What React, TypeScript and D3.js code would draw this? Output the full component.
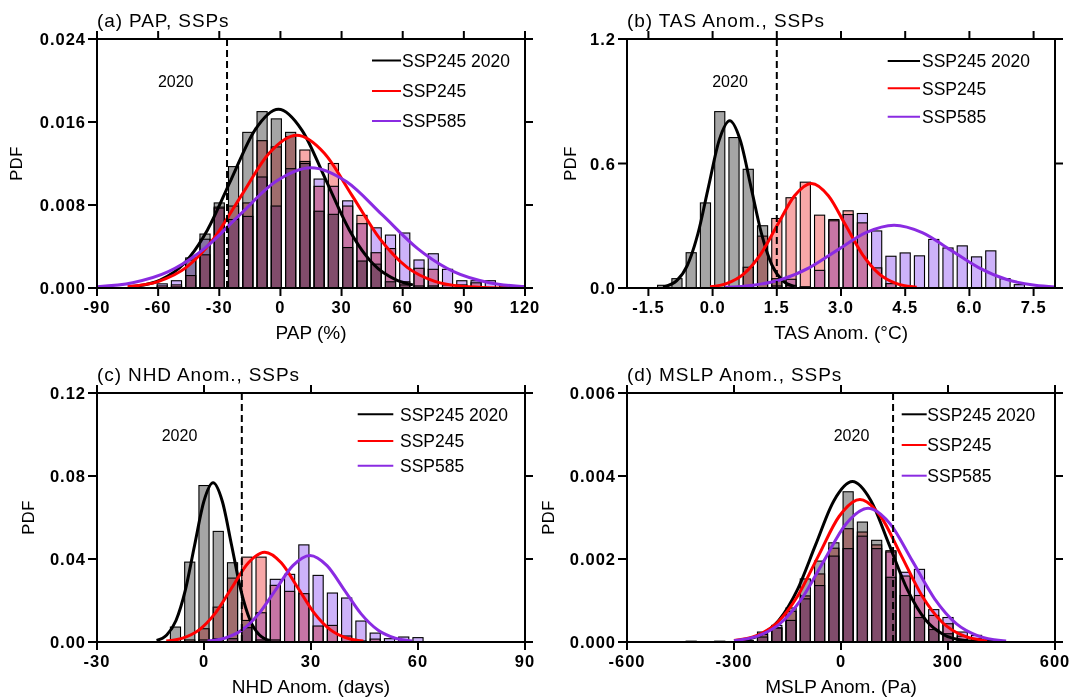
import React from 'react';
import * as d3 from 'd3';

type Pt = [number, number];

// ---------------- Panel (a) PAP ----------------
const binsA = [-58, -51, -44, -37, -30, -23, -16, -9, -2, 5, 12, 19, 26, 33, 40, 47, 54, 61, 68, 75, 82, 89, 96, 103, 110, 117];
const histA2020 = [0, 0.0001, 0.0029, 0.0052, 0.0082, 0.0117, 0.015, 0.017, 0.0163, 0.015, 0.0122, 0.0074, 0.0071, 0.0039, 0.0026, 0.0023, 0.0006, 0.0003, 0.0002, 0.0002, 0, 0, 0, 0, 0, 0];
const histA245 = [0.0002, 0.0003, 0.0012, 0.0032, 0.0078, 0.0079, 0.0082, 0.0142, 0.0136, 0.0146, 0.0133, 0.0098, 0.012, 0.0079, 0.007, 0.0034, 0.0038, 0.0006, 0.0019, 0.0018, 0.0003, 0.0003, 0.0005, 0, 0.0002, 0];
const histA585 = [0.0004, 0.0007, 0.0027, 0.0047, 0.0077, 0.0066, 0.0069, 0.0107, 0.0079, 0.0115, 0.012, 0.0105, 0.0098, 0.0084, 0.0062, 0.0058, 0.0051, 0.0053, 0.0027, 0.0033, 0.0018, 0.0007, 0.0007, 0.0007, 0.0003, 0.0002];
const curveA2020: Pt[] = [[-73, 0.00014], [-70.6, 0.00019], [-59, 0.00076], [-47.4, 0.00233], [-35.8, 0.0056], [-24.2, 0.01045], [-12.6, 0.0152], [-1, 0.01723], [10.6, 0.0152], [22.2, 0.01045], [33.8, 0.0056], [45.4, 0.00233], [57, 0.00076], [65, 0.0003]];
const curveA245: Pt[] = [[-75, 0.000135], [-59.75, 0.000646], [-46.2, 0.00199], [-32.65, 0.00478], [-19.1, 0.00893], [-5.55, 0.01299], [8, 0.01472], [21.55, 0.01299], [35.1, 0.00893], [48.65, 0.00478], [62.2, 0.00199], [75.75, 0.000646], [89.3, 0.000163], [102.85, 0.000032], [117, 0.000005]];
const curveA585: Pt[] = [[-90, 0.000129], [-72.5, 0.000509], [-55, 0.00157], [-37.5, 0.00377], [-20, 0.00704], [-2.5, 0.01024], [15, 0.0116], [32.5, 0.01024], [50, 0.00704], [67.5, 0.00377], [85, 0.00157], [102.5, 0.000509], [120, 0.000129]];
const xTicksA = [-90, -60, -30, 0, 30, 60, 90, 120];
const xTickLabelsA = ['-90', '-60', '-30', '0', '30', '60', '90', '120'];
const yTicksA = [0, 0.008, 0.016, 0.024];
const yTickLabelsA = ['0.000', '0.008', '0.016', '0.024'];

// ---------------- Panel (b) TAS ----------------
const binsB = [-1.167, -0.833, -0.5, -0.167, 0.167, 0.5, 0.833, 1.167, 1.5, 1.833, 2.167, 2.5, 2.833, 3.167, 3.5, 3.833, 4.167, 4.5, 4.833, 5.167, 5.5, 5.833, 6.167, 6.5, 6.833, 7.167];
const histB2020 = [0.013, 0.045, 0.17, 0.41, 0.85, 0.725, 0.572, 0.3, 0.045, 0.013, 0.005, 0, 0, 0, 0, 0, 0, 0, 0, 0, 0, 0, 0, 0, 0, 0];
const histB245 = [0, 0, 0, 0, 0, 0, 0.1, 0.25, 0.335, 0.435, 0.51, 0.351, 0.33, 0.372, 0.314, 0.097, 0.021, 0.003, 0, 0, 0, 0, 0, 0, 0, 0];
const histB585 = [0, 0, 0, 0, 0, 0, 0, 0, 0.01, 0.042, 0.005, 0.085, 0.324, 0.354, 0.359, 0.275, 0.153, 0.169, 0.155, 0.234, 0.193, 0.203, 0.15, 0.179, 0.045, 0.016];
const curveB2020: Pt[] = [[-1.16, 0.0056], [-1.085, 0.009], [-0.8375, 0.0354], [-0.59, 0.1091], [-0.3425, 0.2617], [-0.095, 0.4888], [0.1525, 0.7113], [0.4, 0.806], [0.6475, 0.7113], [0.895, 0.4888], [1.1425, 0.2617], [1.39, 0.1091], [1.6375, 0.0354], [1.885, 0.009], [1.92, 0.0073]];
const curveB245: Pt[] = [[-0.06, 0.0056], [0.335, 0.0221], [0.73, 0.0682], [1.125, 0.1636], [1.52, 0.3057], [1.915, 0.4448], [2.31, 0.504], [2.705, 0.4448], [3.1, 0.3057], [3.495, 0.1636], [3.89, 0.0682], [4.285, 0.0221], [4.68, 0.0056], [4.77, 0.004]];
const curveB585: Pt[] = [[0.289, 0.0034], [0.9475, 0.0133], [1.606, 0.041], [2.2645, 0.0984], [2.923, 0.1838], [3.5815, 0.2674], [4.24, 0.303], [4.8985, 0.2674], [5.557, 0.1838], [6.2155, 0.0984], [6.874, 0.041], [7.5325, 0.0133], [8.0, 0.0052]];
const xTicksB = [-1.5, 0, 1.5, 3, 4.5, 6, 7.5];
const xTickLabelsB = ['-1.5', '0.0', '1.5', '3.0', '4.5', '6.0', '7.5'];
const yTicksB = [0, 0.6, 1.2];
const yTickLabelsB = ['0.0', '0.6', '1.2'];

// ---------------- Panel (c) NHD ----------------
const binsC = [-8, -4, 0, 4, 8, 12, 16, 20, 24, 28, 32, 36, 40, 44, 48, 52, 56, 60];
const histC2020 = [0.0072, 0.0385, 0.0754, 0.0533, 0.0382, 0.0104, 0.001, 0.001, 0, 0, 0, 0, 0, 0, 0, 0, 0, 0];
const histC245 = [0, 0.001, 0.0064, 0.0168, 0.0308, 0.0409, 0.0409, 0.0273, 0.0244, 0.0233, 0.0077, 0.008, 0.0029, 0.0005, 0.0014, 0, 0, 0];
const histC585 = [0, 0, 0.001, 0.0016, 0.0016, 0.0069, 0.0141, 0.0302, 0.0326, 0.0468, 0.0321, 0.0236, 0.0212, 0.0101, 0.0043, 0.0016, 0.0024, 0.0021];
const curveC2020: Pt[] = [[-13.3, 0.00073], [-10.45, 0.00337], [-7.85, 0.01038], [-5.25, 0.0249], [-2.65, 0.04652], [-0.05, 0.06769], [2.55, 0.0767], [5.15, 0.06769], [7.75, 0.04652], [10.35, 0.0249], [12.95, 0.01038], [15.55, 0.00337], [18.5, 0.0007]];
const curveC245: Pt[] = [[-10.58, 0.00048], [-5.975, 0.0019], [-1.37, 0.00586], [3.235, 0.01406], [7.84, 0.02626], [12.445, 0.03821], [17.05, 0.0433], [21.655, 0.03821], [26.26, 0.02626], [30.865, 0.01406], [35.47, 0.00586], [40.075, 0.0019], [44.68, 0.00048]];
const curveC585: Pt[] = [[0.99, 0.00046], [5.775, 0.00183], [10.56, 0.00564], [15.345, 0.01354], [20.13, 0.02529], [24.915, 0.0368], [29.7, 0.0417], [34.485, 0.0368], [39.27, 0.02529], [44.055, 0.01354], [48.84, 0.00564], [53.625, 0.00183], [58.41, 0.00046]];
const xTicksC = [-30, 0, 30, 60, 90];
const xTickLabelsC = ['-30', '0', '30', '60', '90'];
const yTicksC = [0, 0.04, 0.08, 0.12];
const yTickLabelsC = ['0.00', '0.04', '0.08', '0.12'];

// ---------------- Panel (d) MSLP ----------------
const binsD = [-420, -380, -340, -300, -260, -220, -180, -140, -100, -60, -20, 20, 60, 100, 140, 180, 220, 260, 300, 340, 380, 420];
const histD2020 = [0.00002, 0, 0.00002, 0, 0.00003, 0.00024, 0.00034, 0.00082, 0.00152, 0.00195, 0.00239, 0.00362, 0.00289, 0.00245, 0.00156, 0.00112, 0.00059, 0.0003, 0.0002, 0.00006, 0, 0];
const histD245 = [0, 0, 0, 0, 0.00003, 0.00018, 0.00034, 0.00074, 0.00111, 0.00164, 0.00226, 0.00273, 0.00265, 0.00234, 0.0022, 0.00159, 0.00112, 0.00064, 0.00044, 0.00014, 0.00008, 0.00004];
const histD585 = [0, 0, 0, 0, 0, 0.00012, 0.0004, 0.00052, 0.00104, 0.00136, 0.00207, 0.00225, 0.00255, 0.00225, 0.00217, 0.00168, 0.00175, 0.00078, 0.00059, 0.00024, 0.00016, 0.00006];
const curveD2020: Pt[] = [[-300, 0.0000215], [-277, 0.0000429], [-225.5, 0.00017], [-174, 0.000523], [-122.5, 0.001255], [-71, 0.002345], [-19.5, 0.003412], [32, 0.003866], [83.5, 0.003412], [135, 0.002345], [186.5, 0.001255], [238, 0.000523], [289.5, 0.00017], [341, 0.0000429], [392.5, 0.0000085]];
const curveD245: Pt[] = [[-300, 0.0000335], [-237, 0.000151], [-179, 0.000464], [-121, 0.001115], [-63, 0.002082], [-5, 0.00303], [53, 0.003433], [111, 0.00303], [169, 0.002082], [227, 0.001115], [285, 0.000464], [343, 0.000151], [401, 0.0000381], [410, 0.00003]];
const curveD585: Pt[] = [[-300, 0.0000324], [-234, 0.000142], [-172, 0.000436], [-110, 0.001047], [-48, 0.001955], [14, 0.002845], [76, 0.003224], [138, 0.002845], [200, 0.001955], [262, 0.001047], [324, 0.000436], [386, 0.000142], [448, 0.0000358], [463, 0.0000248]];
const xTicksD = [-600, -300, 0, 300, 600];
const xTickLabelsD = ['-600', '-300', '0', '300', '600'];
const yTicksD = [0, 0.002, 0.004, 0.006];
const yTickLabelsD = ['0.000', '0.002', '0.004', '0.006'];

const legendNames = ['SSP245 2020', 'SSP245', 'SSP585'];
const vlines = [-26.2, 1.5, 10.6, 146];

// ---------------- styling ----------------
const PW = 428;
const PH = 249;
const FONT = '"Liberation Sans", Arial, Helvetica, sans-serif';
const LINE_COLORS = ['#000000', '#ff0000', '#8a2be2'];
const FILL_COLORS = ['#a5a5a5', '#f8a8a8', '#cdb2fa'];

interface PanelCfg {
  id: string;
  left: number;
  top: number;
  title: string;
  xTitle: string;
  xDomain: [number, number];
  yDomain: [number, number];
  xTicks: number[];
  xTickLabels: string[];
  yTicks: number[];
  yTickLabels: string[];
  bins: number[];
  binWidth: number;
  hists: number[][];
  curves: Pt[][];
  vline: number;
  pdfX: number;
  label2020: [number, number];
  legend: { x0: number; x1: number; tx: number; rows: number[] };
}

const panels: PanelCfg[] = [
  {
    id: 'a', left: 97, top: 39, title: '(a) PAP, SSPs', xTitle: 'PAP (%)',
    xDomain: [-90, 120], yDomain: [0, 0.024], xTicks: xTicksA, xTickLabels: xTickLabelsA,
    yTicks: yTicksA, yTickLabels: yTickLabelsA, bins: binsA, binWidth: 7,
    hists: [histA2020, histA245, histA585], curves: [curveA2020, curveA245, curveA585],
    vline: vlines[0], pdfX: 16, label2020: [78.7, 47.7],
    legend: { x0: 275, x1: 304, tx: 305, rows: [21.5, 52, 82] },
  },
  {
    id: 'b', left: 627, top: 39, title: '(b) TAS Anom., SSPs', xTitle: 'TAS Anom. (°C)',
    xDomain: [-2, 8], yDomain: [0, 1.2], xTicks: xTicksB, xTickLabels: xTickLabelsB,
    yTicks: yTicksB, yTickLabels: yTickLabelsB, bins: binsB, binWidth: 1 / 3,
    hists: [histB2020, histB245, histB585], curves: [curveB2020, curveB245, curveB585],
    vline: vlines[1], pdfX: 570, label2020: [103, 47.7],
    legend: { x0: 260.7, x1: 293, tx: 295, rows: [22, 49.3, 77.7] },
  },
  {
    id: 'c', left: 97, top: 393, title: '(c) NHD Anom., SSPs', xTitle: 'NHD Anom. (days)',
    xDomain: [-30, 90], yDomain: [0, 0.12], xTicks: xTicksC, xTickLabels: xTickLabelsC,
    yTicks: yTicksC, yTickLabels: yTickLabelsC, bins: binsC, binWidth: 4,
    hists: [histC2020, histC245, histC585], curves: [curveC2020, curveC245, curveC585],
    vline: vlines[2], pdfX: 28, label2020: [82.5, 48],
    legend: { x0: 260.7, x1: 296.3, tx: 303, rows: [21.3, 48, 72.7] },
  },
  {
    id: 'd', left: 627, top: 393, title: '(d) MSLP Anom., SSPs', xTitle: 'MSLP Anom. (Pa)',
    xDomain: [-600, 600], yDomain: [0, 0.006], xTicks: xTicksD, xTickLabels: xTickLabelsD,
    yTicks: yTicksD, yTickLabels: yTickLabelsD, bins: binsD, binWidth: 40,
    hists: [histD2020, histD245, histD585], curves: [curveD2020, curveD245, curveD585],
    vline: vlines[3], pdfX: 548, label2020: [224.5, 48],
    legend: { x0: 274.7, x1: 299.7, tx: 300.3, rows: [21.3, 52, 82.7] },
  },
];

function Panel({ p }: { p: PanelCfg }) {
  const x = d3.scaleLinear().domain(p.xDomain).range([p.left, p.left + PW]);
  const y = d3.scaleLinear().domain(p.yDomain).range([p.top + PH, p.top]);
  const bw = (x(p.xDomain[0] + p.binWidth) - x(p.xDomain[0])) * 0.71;
  const line = d3
    .line<Pt>()
    .x((d) => x(d[0]))
    .y((d) => y(d[1]))
    .curve(d3.curveMonotoneX);
  const clipId = `clip-${p.id}`;
  const bottom = p.top + PH;
  const right = p.left + PW;
  const tickLabelStyle = { fontFamily: FONT, fontSize: 16.5, fontWeight: 700, letterSpacing: 1 } as const;

  return (
    <g>
      <defs>
        <clipPath id={clipId}>
          <rect x={p.left} y={p.top} width={PW} height={PH} />
        </clipPath>
      </defs>
      {/* histograms */}
      {p.hists.map((vals, si) =>
        p.bins.map((c, i) =>
          vals[i] > 0 ? (
            <rect
              key={`${si}-${i}`}
              x={x(c) - bw / 2}
              y={y(vals[i])}
              width={bw}
              height={y(0) - y(vals[i])}
              fill={FILL_COLORS[si]}
              stroke="#000"
              strokeWidth={1.1}
              style={{ mixBlendMode: 'multiply' }}
            />
          ) : null
        )
      )}
      {/* fitted curves */}
      <g clipPath={`url(#${clipId})`}>
        {p.curves.map((pts, si) => (
          <path key={si} d={line(pts) || ''} fill="none" stroke={LINE_COLORS[si]} strokeWidth={3} strokeLinejoin="round" />
        ))}
      </g>
      {/* 2020 dashed line */}
      <line x1={x(p.vline)} x2={x(p.vline)} y1={p.top} y2={bottom} stroke="#000" strokeWidth={2} strokeDasharray="7,4" />
      <text x={p.left + p.label2020[0]} y={p.top + p.label2020[1]} textAnchor="middle" fontFamily={FONT} fontSize={16}>
        2020
      </text>
      {/* legend */}
      {legendNames.map((name, i) => (
        <g key={name}>
          <line
            x1={p.left + p.legend.x0}
            x2={p.left + p.legend.x1}
            y1={p.top + p.legend.rows[i]}
            y2={p.top + p.legend.rows[i]}
            stroke={LINE_COLORS[i]}
            strokeWidth={2}
          />
          <text x={p.left + p.legend.tx} y={p.top + p.legend.rows[i] + 6.3} fontFamily={FONT} fontSize={17.5}>
            {name}
          </text>
        </g>
      ))}
      {/* frame */}
      <rect x={p.left} y={p.top} width={PW} height={PH} fill="none" stroke="#000" strokeWidth={2} />
      {/* x ticks */}
      {p.xTicks.map((t, i) => (
        <g key={`xt${i}`}>
          <line x1={x(t)} x2={x(t)} y1={bottom} y2={bottom + 8} stroke="#000" strokeWidth={2} />
          <line x1={x(t)} x2={x(t)} y1={p.top} y2={p.top - 8} stroke="#000" strokeWidth={2} />
          <text x={x(t)} y={bottom + 25} textAnchor="middle" style={tickLabelStyle}>
            {p.xTickLabels[i]}
          </text>
        </g>
      ))}
      {/* y ticks */}
      {p.yTicks.map((t, i) => (
        <g key={`yt${i}`}>
          <line x1={p.left - 9} x2={p.left} y1={y(t)} y2={y(t)} stroke="#000" strokeWidth={2} />
          <line x1={right} x2={right + 8} y1={y(t)} y2={y(t)} stroke="#000" strokeWidth={2} />
          <text x={p.left - 11} y={y(t) + 6} textAnchor="end" style={tickLabelStyle}>
            {p.yTickLabels[i]}
          </text>
        </g>
      ))}
      {/* titles */}
      <text x={p.left} y={p.top - 12.5} fontFamily={FONT} fontSize={19} letterSpacing={0.9}>
        {p.title}
      </text>
      <text x={p.left + PW / 2} y={bottom + 51} textAnchor="middle" fontFamily={FONT} fontSize={19}>
        {p.xTitle}
      </text>
      <text
        transform={`translate(${p.pdfX + 6},${p.top + PH / 2}) rotate(-90)`}
        textAnchor="middle"
        fontFamily={FONT}
        fontSize={16.5}
        letterSpacing={0.5}
      >
        PDF
      </text>
    </g>
  );
}

export default function App() {
  return (
    <div style={{ position: 'fixed', left: 0, top: 0, width: 1073, height: 699, background: '#fff' }}>
      <svg width={1073} height={699} viewBox="0 0 1073 699" style={{ display: 'block' }}>
        <rect x={0} y={0} width={1073} height={699} fill="#fff" />
        {panels.map((p) => (
          <Panel key={p.id} p={p} />
        ))}
      </svg>
    </div>
  );
}
